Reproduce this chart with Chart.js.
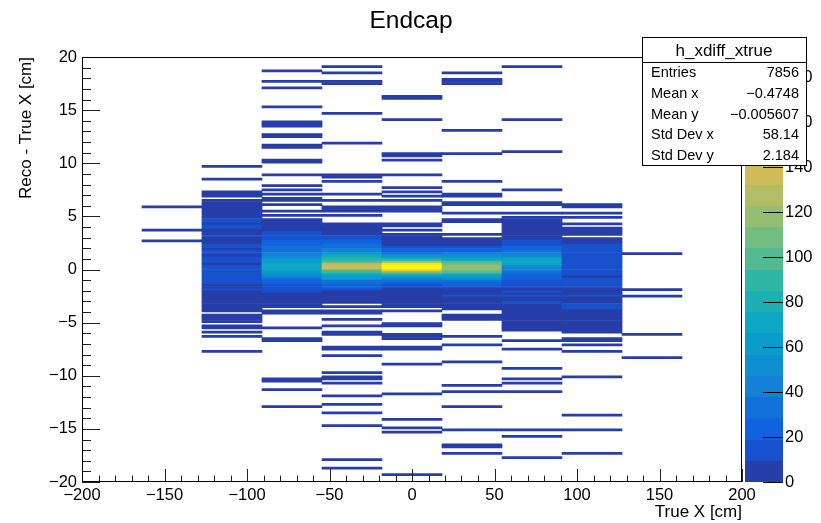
<!DOCTYPE html>
<html lang="en">
<head>
<meta charset="UTF-8">
<title>Endcap</title>
<script src="https://cdn.jsdelivr.net/npm/chart.js"></script>
<style>
  html, body { margin: 0; padding: 0; background: #fff; }
  #wrap { width: 821px; height: 523px; }
</style>
</head>
<body>
<div id="wrap"><canvas id="h2" width="821" height="523"></canvas></div>
<script>
// ---- histogram h_xdiff_xtrue : 11 x-bins, 0.2 cm y-bins ----
const xEdges = [-200, -163.64, -127.27, -90.91, -54.55, -18.18, 18.18, 54.55, 90.91, 127.27, 163.64, 200];
const yBinWidth = 0.2;
const xTicks = [-200, -150, -100, -50, 0, 50, 100, 150, 200];
const yTicks = [-20, -15, -10, -5, 0, 5, 10, 15, 20];
const zTicks = [0, 20, 40, 60, 80, 100, 120, 140, 160, 180];

// isolated bins: [y bin low edge, entries]
const col1Tails = [[5.8,1],[3.6,1],[2.6,1]];
const col2Tails = [[9.6,1],[8.4,1],[7.2,2],[7.0,3],[6.8,2],[-4.4,3],[-4.6,4],[-4.8,4],[-5.0,3],[-5.4,2],[-5.6,3],[-6.0,1],[-6.4,1],[-7.8,1]];
const col3Tails = [[18.6,1],[17.6,1],[17.0,1],[15.2,1],[13.8,2],[13.6,3],[13.4,2],[12.6,2],[12.4,2],[11.6,2],[11.4,2],[10.2,2],[10.0,3],[8.8,1],[7.8,1],[7.4,1],[7.0,2],[6.6,3],[6.4,2],[6.0,2],[5.4,1],[5.0,1],
  [-4.0,1],[-4.2,3],[-5.6,1],[-6.6,2],[-6.8,2],[-10.4,2],[-10.6,2],[-11.4,1],[-13.0,1]];
const col4Tails = [[19.0,1],[18.4,1],[17.6,2],[17.4,3],[14.6,1],[11.8,1],[8.8,2],[8.6,3],[8.2,1],[7.0,2],[6.4,2],[5.8,2],[5.6,3],[5.4,3],[5.0,1],
  [-3.6,1],[-4.0,2],[-4.2,2],[-4.8,1],[-5.4,1],[-6.0,2],[-6.2,2],[-7.4,2],[-7.6,2],[-8.2,1],[-9.8,1],[-10.2,2],[-10.4,2],[-10.8,1],[-12.0,1],[-12.8,1],[-13.6,1],[-14.8,1],[-18.0,1],[-18.8,1]];
const col5Tails = [[16.2,2],[16.0,3],[14.0,1],[10.8,2],[10.6,3],[10.2,1],[8.8,1],[7.6,1],[7.2,1],[6.8,1],[6.4,1],[5.8,2],[5.6,3],[5.4,2],[4.2,3],[4.0,3],[3.6,1],
  [-4.0,1],[-5.2,2],[-5.4,2],[-6.2,2],[-6.4,3],[-6.6,2],[-7.4,2],[-7.6,2],[-9.0,1],[-11.8,1],[-14.2,1],[-15.0,1],[-15.4,1],[-19.4,1]];
const col6Tails = [[18.4,1],[17.8,2],[17.6,3],[17.4,2],[13.0,1],[10.8,1],[8.2,1],[7.0,2],[6.8,2],[6.2,2],[6.0,2],[5.2,1],[4.6,2],[4.4,3],[3.2,1],
  [-4.4,2],[-4.6,3],[-4.8,2],[-6.4,1],[-7.2,1],[-8.8,1],[-11.0,1],[-11.6,1],[-13.0,1],[-15.2,1],[-16.6,2],[-16.8,2],[-17.4,1]];
const col7Tails = [[19.0,1],[14.0,1],[11.0,1],[7.4,1],[6.2,2],[6.0,3],[5.2,1],
  [-6.8,1],[-7.6,1],[-9.4,1],[-10.4,1],[-10.8,1],[-11.6,1],[-15.2,1],[-15.8,1],[-17.8,1]];
const col8Tails = [[6.0,3],[5.8,2],[5.2,1],[4.8,1],[4.2,1],[3.8,4],[3.6,5],[3.4,4],[3.2,3],
  [-6.6,2],[-6.8,2],[-7.2,1],[-7.8,1],[-10.2,1],[-13.8,1],[-15.2,1],[-17.4,1]];
const col9Tails = [[1.4,1],[-2.0,1],[-2.6,1],[-6.2,1],[-8.4,1]];

// dense cores: entries per y-bin, from the top bin down
const col2CoreTop = 6.4;
const col2Core = [4,5,6,5,6,7,6,7,8, 12,11,8,12,11,8,9,8,13,9,8,9, 12,13,9,13,12,9,14,13,12,9, 12,15,16,14,15,13,14,12,11, 9,8,11,8,7,8,6,7,5,6,4,5,3];
const col3CoreTop = 4.6;
const col3Core = [5,7,6,8,7,9,12,10,14,16,19,22,25,29,31,36,40,45,52,58,64,70,72,70,66,58,48,40,34,28,22,18,15,12,10,8,7,6,5,6,4,3];
const col4CoreTop = 4.2;
const col4Core = [5,6,7,6,8,8,12,15,20,24,30,36,40,45,62,70,80,90,100,128,136,138,100,92,72,65,60,35,31,28,19,13,8,7,6,5,5,4];
const col5CoreTop = 3.2;
const col5Core = [6,7,8,8,9,9,14,20,28,36,50,65,92,120,172,189,184,160,105,80,60,45,32,25,18,13,9,8,7,6,5,5,4,4,3];
const col6CoreTop = 2.8;
const col6Core = [6,7,8,9,14,20,28,38,50,62,75,100,112,118,116,108,95,72,60,48,35,28,22,16,9,8,7,12,6,5,5,4,3,3];
const col7CoreTop = 4.8;
const col7Core = [4,5,5,6,6,7,7,8,8,9,9,12,15,18,22,28,34,40,46,60,70,74,68,50,45,40,34,28,24,20,17,15,13,12,8,11,7,12,8,6,11,7,6,6,5,5,4,4,4,3,3,3,2,2];
const col8CoreTop = 2.8;
const col8Core = [5,6,8,12,13,14,15,16,15,16,17,16,15,16,14,13,14,12,8,13,14,12,11,10,7,6,8,11,6,7,5,11,12,10,8,7,6,6,5,5,4,4,3,3,2];

const statsTitle = 'h_xdiff_xtrue';
const statsLabels = ['Entries', 'Mean x', 'Mean y', 'Std Dev x', 'Std Dev y'];
const statsValues = ['7856', '\u22120.4748', '\u22120.005607', '58.14', '2.184'];

// ---- kBird palette, 20 contour levels ----
const birdStops = [0.0, 0.125, 0.25, 0.375, 0.5, 0.625, 0.75, 0.875, 1.0];
const birdR = [0.2082, 0.0592, 0.0780, 0.0232, 0.1802, 0.5301, 0.8186, 0.9956, 0.9764];
const birdG = [0.1664, 0.3599, 0.5041, 0.6419, 0.7178, 0.7492, 0.7328, 0.7862, 0.9832];
const birdB = [0.5293, 0.8684, 0.8385, 0.7914, 0.6425, 0.4662, 0.3499, 0.1968, 0.0539];
const nLevels = 20;

function birdColor(t) {
    let i = 0;
    while (i < birdStops.length - 2 && t > birdStops[i + 1]) i++;
    const f = (t - birdStops[i]) / (birdStops[i + 1] - birdStops[i]);
    const ch = arr => Math.round(255 * (arr[i] + f * (arr[i + 1] - arr[i])));
    return 'rgb(' + ch(birdR) + ',' + ch(birdG) + ',' + ch(birdB) + ')';
}
function levelColor(level) {
    const k = Math.floor((level + 0.99) * 255 / nLevels);
    return birdColor(k / 255);
}

function expandCore(top, counts) {
    return counts.map((n, k) => [top - k * yBinWidth, n]);
}

const columnBins = [
    [],
    col1Tails,
    col2Tails.concat(expandCore(col2CoreTop, col2Core)),
    col3Tails.concat(expandCore(col3CoreTop, col3Core)),
    col4Tails.concat(expandCore(col4CoreTop, col4Core)),
    col5Tails.concat(expandCore(col5CoreTop, col5Core)),
    col6Tails.concat(expandCore(col6CoreTop, col6Core)),
    col7Tails.concat(expandCore(col7CoreTop, col7Core)),
    col8Tails.concat(expandCore(col8CoreTop, col8Core)),
    col9Tails,
    []
];

const cells = [];
columnBins.forEach((bins, i) => {
    const xc = (xEdges[i] + xEdges[i + 1]) / 2;
    bins.forEach(([y, n]) => cells.push({ x: xc, y: [y, y + yBinWidth], n: n }));
});
const zMax = Math.max(...cells.map(c => c.n));

function countColor(n) {
    let lv = Math.floor(0.01 + n * nLevels / zMax);
    if (lv > nLevels - 1) lv = nLevels - 1;
    return levelColor(lv);
}

const FONT = '"Liberation Sans", Arial, Helvetica, sans-serif';
const minusLabel = v => (v < 0 ? '\u2212' + Math.abs(v) : String(v));

// ROOT-like frame, inner ticks, palette, titles and stats box
const rootDecor = {
    id: 'rootDecor',
    afterDraw(chart) {
        const c = chart.ctx, a = chart.chartArea;
        const sx = chart.scales.x, sy = chart.scales.y, sz = chart.scales.z;
        c.save();

        // colour palette
        const dz = zMax / nLevels;
        for (let i = 0; i < nLevels; i++) {
            const y0 = Math.round(sz.getPixelForValue(i * dz));
            const y1 = Math.round(sz.getPixelForValue((i + 1) * dz));
            c.fillStyle = levelColor(i);
            c.fillRect(a.right + 3, y1, 38, y0 - y1);
        }
        c.strokeStyle = '#000';
        c.lineWidth = 1;
        c.beginPath();
        zTicks.forEach(v => {
            const y = Math.round(sz.getPixelForValue(v)) + 0.5;
            c.moveTo(a.right + 21, y);
            c.lineTo(a.right + 41, y);
        });
        c.stroke();

        // axis ticks (inside the frame)
        c.strokeStyle = '#222';
        c.beginPath();
        for (let v = -200; v <= 200; v += 10) {
            const x = Math.round(sx.getPixelForValue(v)) + 0.5;
            const len = xTicks.includes(v) ? 13 : 6.5;
            c.moveTo(x, a.bottom);
            c.lineTo(x, a.bottom - len);
        }
        for (let v = -20; v <= 20; v += 1) {
            const y = Math.round(sy.getPixelForValue(v)) + 0.5;
            const len = yTicks.includes(v) ? 18 : 9;
            c.moveTo(a.left, y);
            c.lineTo(a.left + len, y);
        }
        c.stroke();

        // frame
        c.strokeStyle = '#000';
        c.strokeRect(Math.round(a.left) + 0.5, Math.round(a.top) + 0.5,
            Math.round(a.right - a.left) - 1, Math.round(a.bottom - a.top) - 1);

        // titles
        c.fillStyle = '#000';
        c.font = '24.5px ' + FONT;
        c.textAlign = 'center';
        c.textBaseline = 'alphabetic';
        c.fillText('Endcap', 411, 28);

        c.font = '17px ' + FONT;
        c.textAlign = 'right';
        c.fillText('True X [cm]', a.right, 517);

        c.save();
        c.translate(31, a.top);
        c.rotate(-Math.PI / 2);
        c.textAlign = 'right';
        c.fillText('Reco - True X [cm]', 0, 0);
        c.restore();

        // stats box
        const bx = 642, by = 37, bw = 164, bh = 128, hdr = 25;
        c.fillStyle = '#fff';
        c.fillRect(bx, by, bw, bh);
        c.strokeStyle = '#000';
        c.strokeRect(bx + 0.5, by + 0.5, bw, bh);
        c.beginPath();
        c.moveTo(bx, by + hdr + 0.5);
        c.lineTo(bx + bw, by + hdr + 0.5);
        c.stroke();
        c.fillStyle = '#000';
        c.font = '17px ' + FONT;
        c.textAlign = 'center';
        c.fillText(statsTitle, bx + bw / 2, by + 19);
        c.font = '14.5px ' + FONT;
        const rowH = (bh - hdr) / statsLabels.length;
        statsLabels.forEach((lab, k) => {
            const yb = by + hdr + rowH * (k + 0.5) + 5;
            c.textAlign = 'left';
            c.fillText(lab, bx + 9, yb);
            c.textAlign = 'right';
            c.fillText(statsValues[k], bx + bw - 7, yb);
        });
        c.restore();
    }
};

const ctx = document.getElementById('h2').getContext('2d');
const chart = new Chart(ctx, {
    type: 'bar',
    data: {
        datasets: [{
            data: cells,
            backgroundColor: c => (c.raw ? countColor(c.raw.n) : '#000'),
            borderWidth: 0,
            barPercentage: 1,
            categoryPercentage: 1,
            grouped: false
        }]
    },
    options: {
        responsive: false,
        animation: false,
        devicePixelRatio: 1,
        layout: { padding: { top: 57, left: 0, right: 0, bottom: 0 } },
        plugins: {
            legend: { display: false },
            tooltip: { enabled: false },
            title: { display: false }
        },
        scales: {
            x: {
                type: 'linear', position: 'bottom', min: -200, max: 200, offset: false,
                grid: { display: false, drawTicks: false },
                border: { display: false },
                ticks: {
                    stepSize: 50, autoSkip: false, maxRotation: 0, padding: 4, color: '#000',
                    font: { family: FONT, size: 16.5 }, callback: minusLabel
                },
                afterFit: s => { s.height = 41; }
            },
            y: {
                type: 'linear', position: 'left', min: -20, max: 20,
                grid: { display: false, drawTicks: false },
                border: { display: false },
                ticks: {
                    stepSize: 5, autoSkip: false, padding: 5, color: '#000',
                    font: { family: FONT, size: 16.5 }, callback: minusLabel
                },
                afterFit: s => { s.width = 82; s.paddingTop = 0; s.paddingBottom = 0; }
            },
            z: {
                type: 'linear', position: 'right', min: 0, max: zMax,
                grid: { display: false, drawTicks: false },
                border: { display: false },
                ticks: {
                    stepSize: 20, autoSkip: false, padding: 43, color: '#000',
                    font: { family: FONT, size: 16.5 },
                    callback: v => (zTicks.includes(v) ? String(v) : null)
                },
                afterFit: s => { s.width = 79; s.paddingTop = 0; s.paddingBottom = 0; }
            }
        }
    },
    plugins: [rootDecor]
});
</script>
</body>
</html>
